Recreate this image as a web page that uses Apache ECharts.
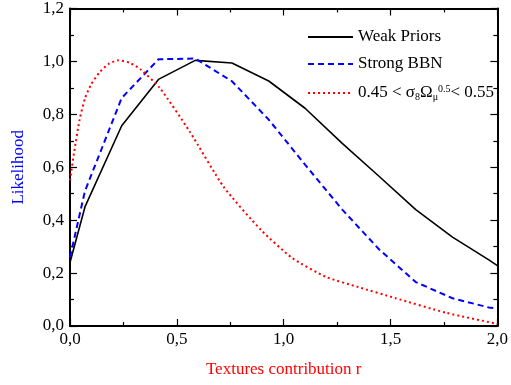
<!DOCTYPE html>
<html>
<head>
<meta charset="utf-8">
<script src="https://cdn.jsdelivr.net/npm/echarts@6/dist/echarts.min.js"></script>
<style>html,body{margin:0;padding:0;background:#fff}#c{width:511px;height:385px}</style>
</head>
<body>
<div id="c"></div>
<script>
var weakX = [0, 0.07, 0.242, 0.414, 0.586, 0.758, 0.93, 1.10, 1.274, 1.446, 1.618, 1.79, 1.96, 2.0];
var weakY = [0.24, 0.45, 0.757, 0.932, 1.004, 0.994, 0.926, 0.823, 0.69, 0.566, 0.44, 0.336, 0.25, 0.228];
var bbnX = [0, 0.07, 0.242, 0.414, 0.586, 0.758, 0.93, 1.10, 1.274, 1.446, 1.618, 1.79, 1.96, 2.0];
var bbnY = [0.26, 0.51, 0.862, 1.008, 1.011, 0.925, 0.78, 0.61, 0.44, 0.29, 0.166, 0.105, 0.07, 0.066];
var sigX = [0, 0.02, 0.045, 0.07, 0.1, 0.14, 0.18, 0.224, 0.28, 0.33, 0.42, 0.56, 0.72, 0.895, 1.04, 1.2, 1.35, 1.52, 1.76, 2.0];
var sigY = [0.55, 0.66, 0.78, 0.86, 0.915, 0.96, 0.99, 1.004, 0.995, 0.97, 0.90, 0.735, 0.525, 0.362, 0.257, 0.185, 0.147, 0.106, 0.05, 0.008];
var seriesNames = ['Weak Priors', 'Strong BBN', 'sigma'];
var xTitle = 'Textures contribution r';
var yTitle = 'Likelihood';

function pairs(xs, ys) { return xs.map(function (x, i) { return [x, ys[i]]; }); }
var FONT = 'Liberation Serif';
function fmt(v) { return v.toFixed(1).replace('.', ','); }

var chart = echarts.init(document.getElementById('c'));
function axisBase(extra) {
  var a = {
    axisLine: { show: true, onZero: false, lineStyle: { color: '#000', width: 2 } },
    axisTick: { show: true, inside: true, length: 7, lineStyle: { color: '#000', width: 1.2 } },
    minorTick: { show: true, splitNumber: 2, length: 4, lineStyle: { color: '#000', width: 1.2 } },
    splitLine: { show: false },
    axisLabel: { show: false }
  };
  for (var k in extra) a[k] = extra[k];
  return a;
}
chart.setOption({
  animation: false,
  backgroundColor: '#fff',
  grid: { left: 70, right: 12, top: 8, bottom: 59 },
  legend: {
    orient: 'vertical', left: 307, top: 28, padding: 0,
    itemWidth: 45, itemHeight: 14, itemGap: 9,
    itemStyle: { opacity: 0 },
    data: seriesNames,
    textStyle: {
      fontFamily: FONT, fontSize: 17, color: '#000', lineHeight: 18,
      rich: {
        sub: { fontFamily: FONT, fontSize: 10, color: '#000', verticalAlign: 'bottom', lineHeight: 10, padding: [10, 0, 0, 0] },
        sup: { fontFamily: FONT, fontSize: 10, color: '#000', verticalAlign: 'top', lineHeight: 10, padding: [0, 0, 6, 0] }
      }
    },
    formatter: function (name) {
      if (name === 'sigma') return '0.45 < σ{sub|8}Ω{sub|μ}{sup|0.5}< 0.55';
      return name;
    }
  },
  xAxis: [
    axisBase({
      type: 'value', min: 0, max: 2, interval: 0.5, position: 'bottom',
      axisLabel: { show: true, margin: 5, formatter: fmt, fontFamily: FONT, fontSize: 17, color: '#000' },
      name: xTitle, nameLocation: 'middle', nameGap: 35,
      nameTextStyle: { fontFamily: FONT, fontSize: 17, color: '#ff0000' }
    }),
    axisBase({ type: 'value', min: 0, max: 2, interval: 0.5, position: 'top' })
  ],
  yAxis: [
    axisBase({
      type: 'value', min: 0, max: 1.2, interval: 0.2, position: 'left',
      axisLabel: { show: true, margin: 6, formatter: fmt, fontFamily: FONT, fontSize: 17, color: '#000' },
      name: yTitle, nameLocation: 'middle', nameGap: 43,
      nameTextStyle: { fontFamily: FONT, fontSize: 17, color: '#0000ff' }
    }),
    axisBase({ type: 'value', min: 0, max: 1.2, interval: 0.2, position: 'right' })
  ],
  series: [
    { name: seriesNames[0], type: 'line', data: pairs(weakX, weakY), showSymbol: false, symbol: 'none', symbolSize: 0,
      lineStyle: { color: '#000', width: 1.6, type: 'solid' }, itemStyle: { color: '#000' } },
    { name: seriesNames[1], type: 'line', data: pairs(bbnX, bbnY), showSymbol: false, symbol: 'none', symbolSize: 0,
      lineStyle: { color: '#0000ff', width: 2, type: [6, 4] }, itemStyle: { color: '#0000ff' } },
    { name: seriesNames[2], type: 'line', data: pairs(sigX, sigY), showSymbol: false, symbol: 'none', symbolSize: 0, smooth: 0.2,
      lineStyle: { color: '#ff0000', width: 2, type: [2, 3] }, itemStyle: { color: '#ff0000' } }
  ]
});
</script>
</body>
</html>
